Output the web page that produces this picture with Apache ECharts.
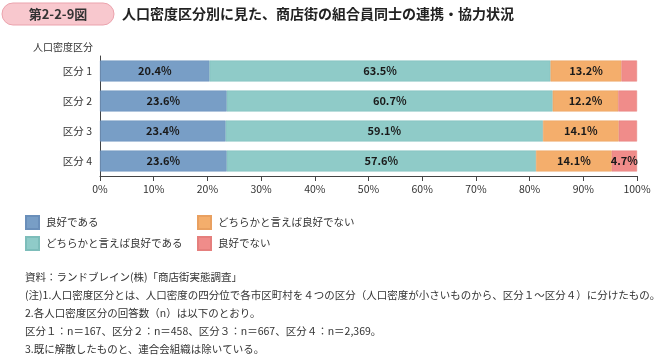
<!DOCTYPE html>
<html><head><meta charset="utf-8">
<script src="https://cdn.jsdelivr.net/npm/echarts@6/dist/echarts.min.js"></script>
<style>html,body{margin:0;padding:0;background:#fff}#c{width:664px;height:363px}</style>
</head><body><div id="c"></div>
<script>
const categories = ['区分 1', '区分 2', '区分 3', '区分 4'];
const seriesNames = ['良好である', 'どちらかと言えば良好である', 'どちらかと言えば良好でない', '良好でない'];
const good = [20.4, 23.6, 23.4, 23.6];
const ratherGood = [63.5, 60.7, 59.1, 57.6];
const ratherNotGood = [13.2, 12.2, 14.1, 14.1];
const notGood = [2.9, 3.5, 3.4, 4.7];
const xTicks = [0, 10, 20, 30, 40, 50, 60, 70, 80, 90, 100];
const notes = [
  '資料：ランドブレイン(株)「商店街実態調査」',
  '(注)1.人口密度区分とは、人口密度の四分位で各市区町村を４つの区分（人口密度が小さいものから、区分１～区分４）に分けたもの。',
  '2.各人口密度区分の回答数（n）は以下のとおり。',
  '区分１：n＝167、区分２：n＝458、区分３：n＝667、区分４：n＝2,369。',
  '3.既に解散したものと、連合会組織は除いている。'
];

const FONT = '"Noto Sans CJK JP", "Noto Sans", sans-serif';
const colors = ['#789ec6', '#8fcbc8', '#f4ae6c', '#f08c8a'];
const borders = ['#6a8fba', '#7dbdba', '#e9a060', '#e57f7d'];
const values = [good, ratherGood, ratherNotGood, notGood];

const chart = echarts.init(document.getElementById('c'), null, {renderer: 'canvas'});
const series = seriesNames.map((n, i) => ({
  name: n, type: 'bar', stack: 's', barWidth: 21,
  data: values[i],
  itemStyle: {color: colors[i], borderColor: borders[i], borderWidth: 0.5},
  label: {
    show: true, position: 'inside', color: '#1a1a1a', fontFamily: FONT,
    fontSize: 11, fontWeight: 'bold',
    formatter: p => p.value >= 4 ? p.value.toFixed(1) + '%' : ''
  }
}));

const graphics = [
  {type: 'rect', shape: {x: 2, y: 3, width: 112, height: 22, r: 11},
   style: {fill: '#f8c8ce', stroke: '#eba3ad', lineWidth: 1}},
  {type: 'text', x: 58, y: 14, style: {text: '第2-2-9図', fill: '#333', font: 'bold 13px ' + FONT, textAlign: 'center', textVerticalAlign: 'middle'}},
  {type: 'text', x: 122, y: 14, style: {text: '人口密度区分別に見た、商店街の組合員同士の連携・協力状況', fill: '#222', font: 'bold 14px ' + FONT, textVerticalAlign: 'middle'}},
  {type: 'text', x: 93, y: 47, style: {text: '人口密度区分', fill: '#333', font: '10px ' + FONT, textAlign: 'right', textVerticalAlign: 'middle'}}
];
notes.forEach((t, i) => {
  graphics.push({type: 'text', x: 25, y: 277 + i * 18, style: {text: t, fill: '#333', font: '10.5px ' + FONT, textVerticalAlign: 'middle'}});
});

const legendCommon = {orient: 'vertical', itemWidth: 13, itemHeight: 13, itemGap: 6, icon: 'rect',
  textStyle: {fontFamily: FONT, fontSize: 10.5, color: '#333', padding: [0, 0, 0, 2]}};

chart.setOption({
  animation: false,
  color: colors,
  grid: {left: 100, right: 27, top: 56, height: 120},
  legend: [
    Object.assign({left: 20, top: 210, data: [seriesNames[0], seriesNames[1]]}, legendCommon),
    Object.assign({left: 192, top: 210, data: [seriesNames[2], seriesNames[3]]}, legendCommon)
  ],
  xAxis: {
    type: 'value', min: 0, max: 100, interval: 10,
    axisLine: {show: true, lineStyle: {color: '#444'}},
    axisTick: {show: true, length: 5, lineStyle: {color: '#444'}},
    splitLine: {show: false},
    axisLabel: {formatter: v => xTicks.includes(v) ? v + '%' : '', fontFamily: FONT, fontSize: 10.5, color: '#333', margin: 8}
  },
  yAxis: {
    type: 'category', data: categories, inverse: true,
    axisLine: {show: true, lineStyle: {color: '#444'}},
    axisTick: {show: false},
    axisLabel: {fontFamily: FONT, fontSize: 10.5, color: '#333', margin: 8}
  },
  series: series,
  graphic: graphics
});
</script></body></html>
